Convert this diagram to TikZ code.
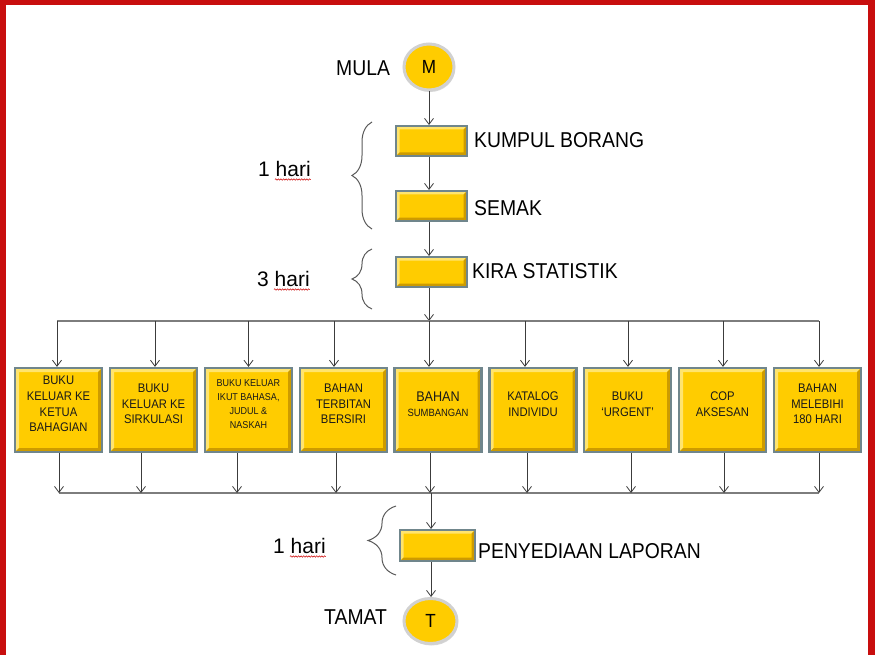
\documentclass[tikz,border=0pt]{standalone}
\usepackage{fontspec}
\setmainfont{Liberation Sans}
\newfontfamily\cond{Liberation Sans}[FakeStretch=0.9,Ligatures=TeX]
\usetikzlibrary{arrows.meta,decorations.pathreplacing,decorations.pathmorphing,shadows,shapes.geometric,calc}
\definecolor{gold}{RGB}{255,204,0}
\definecolor{goldhi}{RGB}{255,228,110}
\definecolor{goldlo}{RGB}{205,155,0}
\definecolor{bevel}{RGB}{112,134,140}
\definecolor{framered}{RGB}{200,14,14}
\definecolor{arr}{RGB}{60,60,60}
\definecolor{busgray}{RGB}{125,125,125}
\definecolor{brgray}{RGB}{90,90,90}
\tikzset{
  bevelfx/.style={path picture={
    \fill[goldhi] (path picture bounding box.north west) -- (path picture bounding box.north east)
       -- ([xshift=-#1,yshift=-#1]path picture bounding box.north east) -- ([xshift=#1,yshift=-#1]path picture bounding box.north west)
       -- ([xshift=#1,yshift=#1]path picture bounding box.south west) -- (path picture bounding box.south west) -- cycle;
    \fill[goldlo] (path picture bounding box.south east) -- (path picture bounding box.south west)
       -- ([xshift=#1,yshift=#1]path picture bounding box.south west) -- ([xshift=-#1,yshift=#1]path picture bounding box.south east)
       -- ([xshift=-#1,yshift=-#1]path picture bounding box.north east) -- (path picture bounding box.north east) -- cycle;
  }},
  flowbox/.style={draw=bevel, line width=2pt, fill=gold, inner sep=0pt, minimum width=71pt, minimum height=30pt,
    bevelfx=3.5pt, drop shadow={shadow xshift=1pt, shadow yshift=-1pt, opacity=0.35}},
  catbox/.style={draw=bevel, line width=2.2pt, fill=gold, inner sep=0pt, minimum width=87pt, minimum height=84pt,
    bevelfx=4pt, drop shadow={shadow xshift=1.2pt, shadow yshift=-1.2pt, opacity=0.45}},
  term/.style={ellipse, draw=black!18, line width=3pt, fill=gold, inner sep=0pt,
    drop shadow={shadow xshift=1pt, shadow yshift=-2pt, opacity=0.3}, font=\cond\fontsize{19}{22}\selectfont},
  lbl/.style={inner sep=0pt, anchor=west, font=\cond\fontsize{21.5}{24}\selectfont},
  dur/.style={inner sep=0pt, anchor=west, font=\fontsize{21}{24}\selectfont},
  boxtxt/.style={inner sep=0pt, align=center, text=black!90, font=\cond\fontsize{12.5}{15.7}\selectfont},
  flow/.style={draw=arr, line width=0.8pt, -{Straight Barb[length=6pt,width=9pt]}},
  busline/.style={draw=busgray, line width=1.6pt},
  brc/.style={decorate, decoration={brace, amplitude=#1}, draw=brgray, line width=1pt},
  spell/.style={draw=red!80!black, line width=0.5pt, decorate, decoration={snake, amplitude=0.7pt, segment length=2.6pt}}
}
\begin{document}
\begin{tikzpicture}[x=1pt,y=-1pt]
\useasboundingbox (0,0) rectangle (875,655);
\fill[white] (0,0) rectangle (875,655);
\fill[framered] (0,0) rectangle (875,5);
\fill[framered] (0,0) rectangle (6,655);
\fill[framered] (868,0) rectangle (875,655);

% start / end
\node[term, minimum width=50pt, minimum height=46pt] (M) at (429,67) {M};
\node[lbl] (mula) at (336,68) {MULA};

% upper flow
\node[flowbox] (k) at (431.5,141) {};
\node[lbl] (kl) at (474,140) {KUMPUL BORANG};
\node[flowbox] (s) at (431.5,206) {};
\node[lbl] (sl) at (474,208) {SEMAK};
\node[flowbox] (ks) at (431.5,272) {};
\node[lbl] (ksl) at (472,271) {KIRA STATISTIK};

\draw[flow] (M.south) -- (M.south |- k.north);
\draw[flow] (k.south -| M) -- (M |- s.north);
\draw[flow] (s.south -| M) -- (M |- ks.north);

% durations
\coordinate (b1a) at (372,229);
\coordinate (b1b) at (372,122);
\draw[brc=20pt] (b1a) -- (b1b);
\node[dur] (h1) at (258,169) {1 hari};
\draw[spell] ([xshift=-36pt,yshift=-3pt]h1.base east) -- ([yshift=-3pt]h1.base east);

\coordinate (b2a) at (372,309);
\coordinate (b2b) at (372,249);
\draw[brc=20pt] (b2a) -- (b2b);
\node[dur] (h2) at (257,279) {3 hari};
\draw[spell] ([xshift=-36pt,yshift=-3pt]h2.base east) -- ([yshift=-3pt]h2.base east);

% category boxes
\node[catbox] (b1) at (58.5,410) {};
\node[catbox] (b2) at (153.5,410) {};
\node[catbox] (b3) at (248.5,410) {};
\node[catbox] (b4) at (343.5,410) {};
\node[catbox] (b5) at (438,410) {};
\node[catbox] (b6) at (533,410) {};
\node[catbox] (b7) at (627.5,410) {};
\node[catbox] (b8) at (722.5,410) {};
\node[catbox] (b9) at (817.5,410) {};

\node[boxtxt] (t1) at ([yshift=6pt]b1.center) {BUKU\\KELUAR KE\\KETUA\\BAHAGIAN};
\node[boxtxt] (t2) at ([yshift=6pt]b2.center) {BUKU\\KELUAR KE\\SIRKULASI};
\node[boxtxt, font=\cond\fontsize{10}{13.8}\selectfont] (t3) at ([yshift=6pt]b3.center) {BUKU KELUAR\\IKUT BAHASA,\\JUDUL \&\\NASKAH};
\node[boxtxt] (t4) at ([yshift=6pt]b4.center) {BAHAN\\TERBITAN\\BERSIRI};
\node[boxtxt] (t5) at ([yshift=6pt]b5.center) {{\fontsize{14}{15}\selectfont BAHAN}\\[-1pt]{\fontsize{10.5}{12}\selectfont SUMBANGAN}};
\node[boxtxt] (t6) at ([yshift=6pt]b6.center) {KATALOG\\INDIVIDU};
\node[boxtxt] (t7) at ([yshift=6pt]b7.center) {BUKU\\‘URGENT’};
\node[boxtxt] (t8) at ([yshift=6pt]b8.center) {COP\\AKSESAN};
\node[boxtxt] (t9) at ([yshift=6pt]b9.center) {BAHAN\\MELEBIHI\\180 HARI};

% top distribution bus
\coordinate (busT) at (431,321);
\draw[flow] (ks.south -| M) -- (M |- busT);
\draw[busline] ([xshift=-1.5pt]b1.north |- busT) -- ([xshift=1.5pt]b9.north |- busT);
\foreach \i/\o in {1/-1.5,2/1.5,3/0,4/-9.5,5/-9,6/-8,7/0.5,8/0.5,9/1.5}
  \draw[flow] ([xshift=\o pt]b\i.north |- busT) -- ([xshift=\o pt]b\i.north);

% bottom collecting bus
\coordinate (busB) at (431,493);
\draw[busline] ([xshift=0.5pt]b1.south |- busB) -- ([xshift=1.5pt]b9.south |- busB);
\foreach \i/\o in {1/0.5,2/-12.5,3/-11.5,4/-7.5,5/-8,6/-6,7/3.5,8/1.5,9/1.5}
  \draw[flow] ([xshift=\o pt]b\i.south) -- ([xshift=\o pt]b\i.south |- busB);

% report
\node[flowbox, minimum width=75pt, minimum height=31pt] (p) at (437.5,545.5) {};
\node[lbl] (pl) at (478,551) {PENYEDIAAN LAPORAN};
\draw[flow] (busB) -- (busB |- p.north);

\coordinate (b3a) at (396,575);
\coordinate (b3b) at (396,506);
\draw[brc=28pt] (b3a) -- (b3b);
\node[dur] (h3) at (273,546) {1 hari};
\draw[spell] ([xshift=-36pt,yshift=-3pt]h3.base east) -- ([yshift=-3pt]h3.base east);

\node[term, minimum width=53pt, minimum height=45pt] (T) at (430.5,621) {T};
\node[lbl] (tamat) at (324,617) {TAMAT};
\draw[flow] (p.south -| busB) -- (busB |- T.north);
\end{tikzpicture}
\end{document}
